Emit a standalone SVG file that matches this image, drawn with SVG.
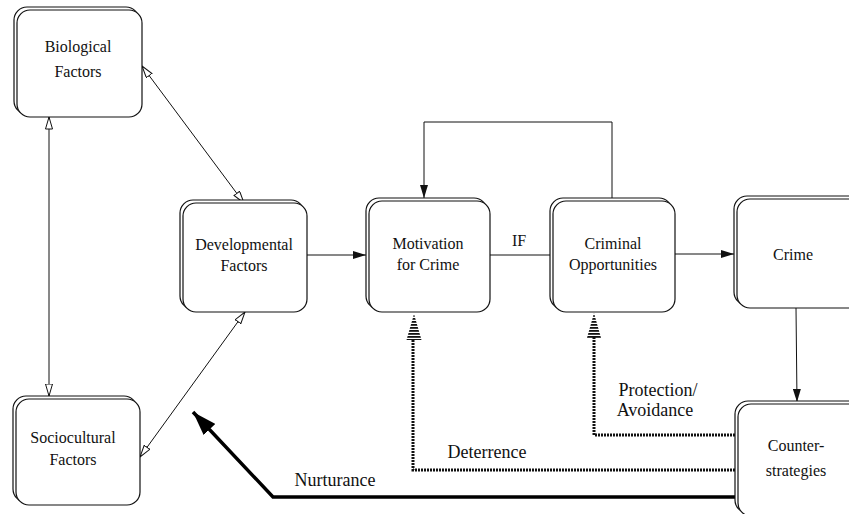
<svg xmlns="http://www.w3.org/2000/svg" width="849" height="514" viewBox="0 0 849 514">
<style>
.bg{fill:#fff;stroke:#111;stroke-width:1.2}
.fr{fill:#fff;stroke:#111;stroke-width:1.2}
.t{font-family:"Liberation Serif","Times New Roman",serif;font-size:16px;fill:#111;text-anchor:middle}
.lbl{font-family:"Liberation Serif","Times New Roman",serif;font-size:18px;fill:#111;text-anchor:middle}
.ln{fill:none;stroke:#111;stroke-width:1}
.hatch{fill:none;stroke:#111;stroke-width:3;stroke-dasharray:2 1}
.thick{fill:none;stroke:#000;stroke-width:3.5}
</style>
<defs>
<marker id="open" viewBox="0 0 13 8" refX="12.5" refY="4" markerWidth="13" markerHeight="8" markerUnits="userSpaceOnUse" orient="auto-start-reverse">
<path d="M0.5,0.5 L12.5,4 L0.5,7.5 Z" fill="#fff" stroke="#111" stroke-width="1"/>
</marker>
<marker id="solid" viewBox="0 0 13 8" refX="13" refY="4" markerWidth="13" markerHeight="8" markerUnits="userSpaceOnUse" orient="auto">
<path d="M0,0 L13,4 L0,8 Z" fill="#111"/>
</marker>
<marker id="big" viewBox="0 0 24 16" refX="24" refY="8" markerWidth="24" markerHeight="16" markerUnits="userSpaceOnUse" orient="auto">
<path d="M0,0 L24,8 L0,16 Z" fill="#000"/>
</marker>
<pattern id="stripes" patternUnits="userSpaceOnUse" width="4" height="3">
<rect x="0" y="0" width="4" height="1.8" fill="#111"/>
</pattern>
</defs>

<g id="connectors">
<path class="ln" d="M142,66 L244,203" marker-start="url(#open)" marker-end="url(#open)"/>
<path class="ln" d="M49,117 L49,396" marker-start="url(#open)" marker-end="url(#open)"/>
<path class="ln" d="M245,312 L140,457" marker-start="url(#open)" marker-end="url(#open)"/>
<path class="ln" d="M307,255 L366,255" marker-end="url(#solid)"/>
<path class="ln" d="M490,255 L550,255"/>
<text class="t" x="519" y="246">IF</text>
<path class="ln" d="M612,198 L612,122 L424,122 L424,198" marker-end="url(#solid)"/>
<path class="ln" d="M675,254 L734,254" marker-end="url(#solid)"/>
<path class="ln" d="M796,308 L797,402" marker-end="url(#solid)"/>
<path class="hatch" d="M735,435 L594,435 L594,337"/>
<polygon points="594,313 601,338 587,338" fill="url(#stripes)"/>
<path class="hatch" d="M735,470 L413,470 L413,339"/>
<polygon points="414,314 421.5,340 406.5,340" fill="url(#stripes)"/>
<path class="thick" d="M735,497 L273,497 L193,412" marker-end="url(#big)"/>
<text class="lbl" x="658" y="396">Protection/</text>
<text class="lbl" x="655" y="416">Avoidance</text>
<text class="lbl" x="487" y="458">Deterrence</text>
<text class="lbl" x="335" y="486">Nurturance</text>
</g>

<g id="biological">
<rect class="bg" x="14" y="7" width="125" height="107" rx="13"/>
<rect class="fr" x="17" y="10" width="125" height="107" rx="13"/>
<text class="t" x="78" y="52">Biological</text>
<text class="t" x="78" y="77">Factors</text>
</g>
<g id="sociocultural">
<rect class="bg" x="13" y="396" width="124" height="106" rx="13"/>
<rect class="fr" x="16" y="399" width="124" height="106" rx="13"/>
<text class="t" x="73" y="443">Sociocultural</text>
<text class="t" x="73" y="465">Factors</text>
</g>
<g id="developmental">
<rect class="bg" x="180" y="200" width="124" height="109" rx="13"/>
<rect class="fr" x="183" y="203" width="124" height="109" rx="13"/>
<text class="t" x="244" y="250">Developmental</text>
<text class="t" x="244" y="271">Factors</text>
</g>
<g id="motivation">
<rect class="bg" x="366" y="198" width="121" height="111" rx="13"/>
<rect class="fr" x="369" y="201" width="121" height="111" rx="13"/>
<text class="t" x="428" y="249">Motivation</text>
<text class="t" x="428" y="270">for Crime</text>
</g>
<g id="opportunities">
<rect class="bg" x="550" y="198" width="122" height="111" rx="13"/>
<rect class="fr" x="553" y="201" width="122" height="111" rx="13"/>
<text class="t" x="613" y="249">Criminal</text>
<text class="t" x="613" y="270">Opportunities</text>
</g>
<g id="crime">
<rect class="bg" x="734" y="196" width="130" height="109" rx="13"/>
<rect class="fr" x="737" y="199" width="130" height="109" rx="13"/>
<text class="t" x="793" y="260">Crime</text>
</g>
<g id="counterstrategies">
<rect class="bg" x="735" y="401" width="130" height="112" rx="13"/>
<rect class="fr" x="738" y="404" width="130" height="112" rx="13"/>
<text class="t" x="796" y="451">Counter-</text>
<text class="t" x="796" y="476">strategies</text>
</g>
</svg>
